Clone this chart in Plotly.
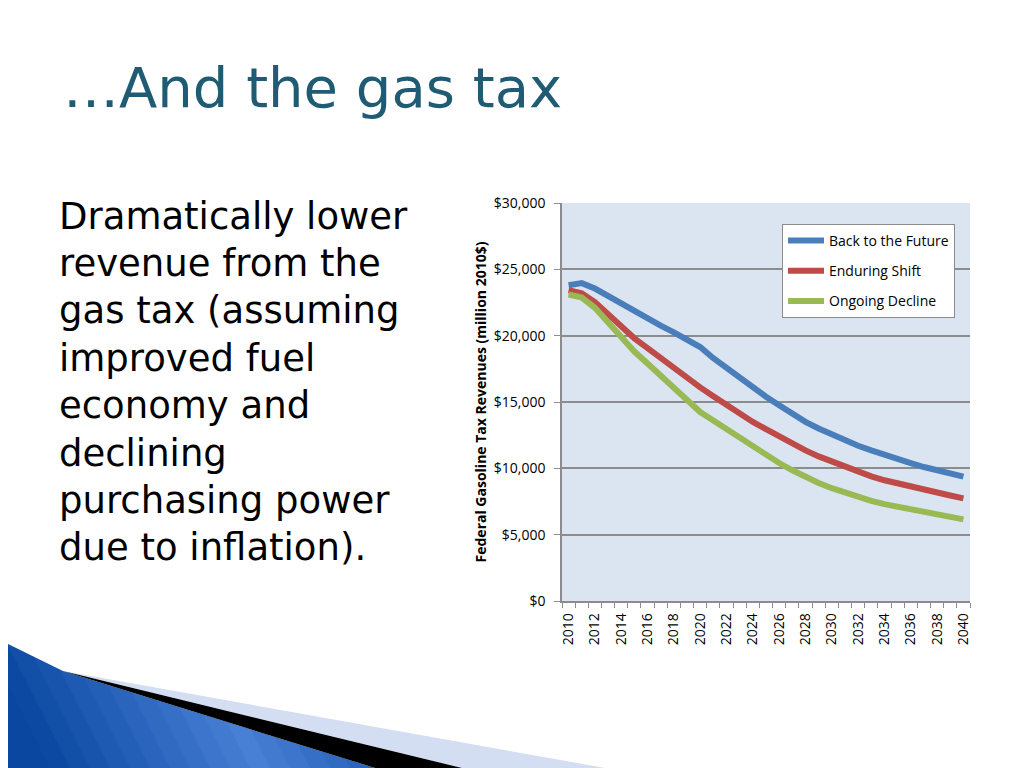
import plotly.graph_objects as go

years = list(range(2010, 2041))
back_to_future = [23800, 23960, 23550, 22990, 22360, 21780, 21270, 20760, 20250, 19700,
                  19140, 18300, 17540, 16780, 16100, 15400, 14750, 14100, 13500, 13000,
                  12550, 12100, 11700, 11350, 11000, 10700, 10400, 10100, 9850, 9600, 9370]
enduring_shift = [23420, 23200, 22530, 21600, 20660, 19800, 19060, 18300, 17540, 16780,
                  16100, 15430, 14750, 14100, 13500, 12950, 12400, 11850, 11350, 10900,
                  10500, 10100, 9750, 9400, 9100, 8850, 8600, 8370, 8150, 7950, 7740]
ongoing_decline = [23100, 22870, 22100, 20970, 19800, 18800, 17900, 17000, 16100, 15130,
                   14240, 13600, 12950, 12300, 11700, 11000, 10400, 9850, 9350, 8900,
                   8500, 8150, 7850, 7550, 7300, 7100, 6900, 6700, 6500, 6300, 6150]
series_names = ["Back to the Future", "Enduring Shift", "Ongoing Decline"]
series_colors = ["#4a7ebb", "#be4b48", "#98b954"]
y_ticks = [0, 5000, 10000, 15000, 20000, 25000, 30000]
y_ticktext = ["$0", "$5,000", "$10,000", "$15,000", "$20,000", "$25,000", "$30,000"]
x_ticks = list(range(2010, 2041, 2))

title_text = "…And the gas tax"
body_lines = ["Dramatically lower", "revenue from the", "gas tax (assuming",
              "improved fuel", "economy and", "declining",
              "purchasing power", "due to inflation)."]

OFF = 8  # page body margin
# plot area in screen pixels
SL, SR, ST, SB = 562, 970, 203, 601
W, H = 1024 - OFF, 768 - OFF
L, R, T, B = SL - OFF, SR - OFF, ST - OFF, SB - OFF


def px(x):
    return (x - SL) / (SR - SL)


def py(y):
    return (SB - y) / (SB - ST)


fig = go.Figure()
for name, vals, col in zip(series_names, [back_to_future, enduring_shift, ongoing_decline], series_colors):
    fig.add_trace(go.Scatter(x=years, y=vals, mode="lines", name=name,
                             legendgroup=name,
                             line=dict(color=col, width=6)))

shapes = []


def poly(points, color):
    d = "M " + " L ".join(f"{px(a):.5f},{py(b):.5f}" for a, b in points) + " Z"
    return dict(type="path", xref="paper", yref="paper", path=d,
                fillcolor=color, line=dict(width=0), layer="above")


# blue gradient bands (diagonal): dark -> light -> dark
dark = (10, 71, 160)
light = (72, 128, 214)
edges = list(range(-120, 421, 20))
centre = 190.0
for a, b in zip(edges[:-1], edges[1:]):
    m = (a + b) / 2
    t = max(0.0, 1 - abs(m - centre) / 210.0)
    c = tuple(int(dark[k] + (light[k] - dark[k]) * t) for k in range(3))
    shapes.append(poly([(a, 630), (b + 1, 630), (b + 71, 768), (a + 70, 768)],
                       "rgb(%d,%d,%d)" % c))
# white mask above the wedge
shapes.append(poly([(0, 600), (0, 640), (63, 671), (375, 768), (500, 768), (500, 600)], "#ffffff"))
shapes.append(poly([(63, 671), (605, 768), (462, 768)], "#d3def2"))
shapes.append(poly([(63, 671), (462, 768), (375, 768)], "#000000"))

annotations = [dict(text=title_text, xref="paper", yref="paper", x=px(61), y=py(87),
                    xanchor="left", yanchor="middle", showarrow=False,
                    font=dict(family="DejaVu Sans", size=56, color="#1f5c74"))]
for i, line in enumerate(body_lines):
    annotations.append(dict(text=line, xref="paper", yref="paper", x=px(57),
                            y=py(216 + i * 47.4), xanchor="left", yanchor="middle",
                            showarrow=False,
                            font=dict(family="DejaVu Sans", size=37, color="#000000")))

fig.update_layout(
    width=W, height=H,
    margin=dict(l=L, r=W - R, t=T, b=H - B, pad=0),
    paper_bgcolor="white", plot_bgcolor="#dbe5f1",
    showlegend=True,
    legend=dict(x=px(782), y=py(224), xanchor="left", yanchor="top",
                bgcolor="white", bordercolor="#8c8c8c", borderwidth=1,
                font=dict(family="Open Sans", size=14, color="#000000"),
                traceorder="grouped", tracegroupgap=9, itemwidth=36),
    xaxis=dict(range=[2009.5, 2040.5], tickmode="array", tickvals=x_ticks,
               ticktext=[str(v) for v in x_ticks], tickangle=-90,
               showgrid=False, zeroline=False, showline=True, linecolor="#8c8c8c",
               linewidth=1.5, ticks="outside", ticklen=5, tickcolor="rgba(0,0,0,0)",
               tickfont=dict(family="Open Sans", size=14, color="#000"),
               minor=dict(tick0=2009.5, dtick=1, ticks="outside", ticklen=5,
                          tickcolor="#8c8c8c", showgrid=False)),
    yaxis=dict(range=[0, 30000], tickmode="array", tickvals=y_ticks, ticktext=y_ticktext,
               showgrid=True, gridcolor="#8c8c8c", gridwidth=1.5, zeroline=False,
               showline=True, linecolor="#8c8c8c", linewidth=1.5, ticks="outside",
               ticklen=6, tickcolor="#8c8c8c", ticklabelstandoff=6,
               tickfont=dict(family="Open Sans", size=14, color="#000"),
               title=dict(text="<b>Federal Gasoline Tax Revenues (million 2010$)</b>",
                          font=dict(family="Open Sans", size=14, color="#000"),
                          standoff=4)),
    shapes=shapes, annotations=annotations,
)

fig.write_html("out.html")
